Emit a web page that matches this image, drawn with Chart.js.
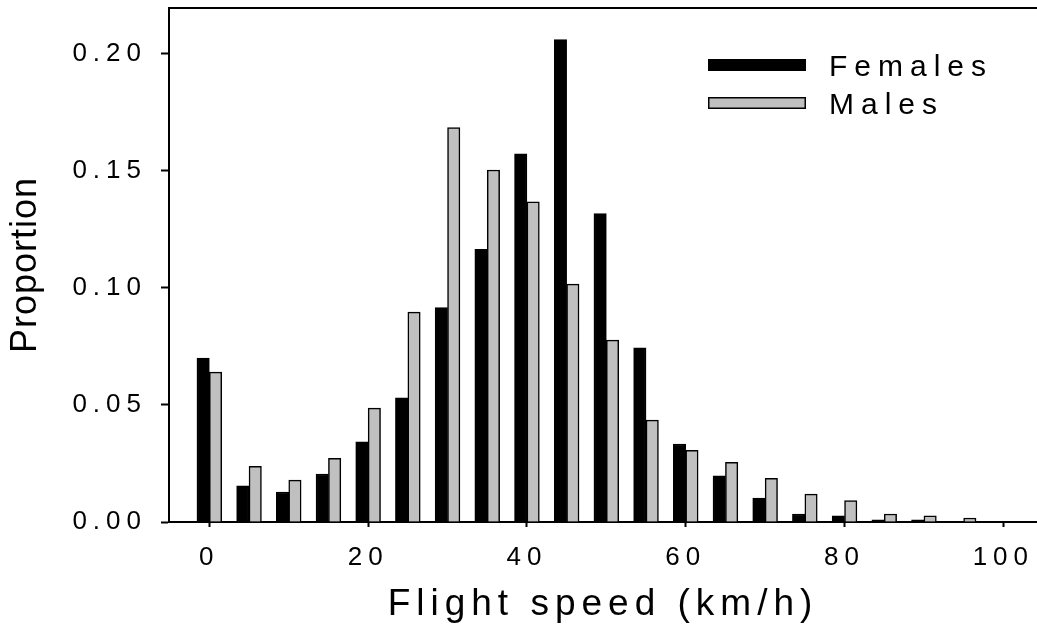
<!DOCTYPE html>
<html>
<head>
<meta charset="utf-8">
<script src="https://cdn.jsdelivr.net/npm/chart.js@4.4.1/dist/chart.umd.min.js"></script>
<style>
  html, body { margin: 0; padding: 0; background: #fff; overflow: hidden; }
  #wrap { width: 1037px; height: 635px; }
</style>
</head>
<body>
<div id="wrap"><canvas id="speedChart" width="1037" height="635"></canvas></div>
<script>
// Flight speed histogram (proportion per 5 km/h class)
const speeds = [0, 5, 10, 15, 20, 25, 30, 35, 40, 45, 50, 55, 60, 65, 70, 75, 80, 85, 90, 95];
const females = [0.070, 0.0154, 0.0128, 0.0205, 0.0342, 0.053, 0.0916, 0.1164, 0.1572, 0.206,
                 0.1317, 0.0744, 0.0333, 0.0197, 0.0102, 0.0034, 0.0026, 0.0009, 0.0009, 0];
const males = [0.064, 0.0238, 0.0179, 0.0272, 0.0486, 0.0896, 0.1684, 0.1503, 0.1367, 0.1016,
               0.0777, 0.0435, 0.0306, 0.0255, 0.0187, 0.0119, 0.0092, 0.0034, 0.0026, 0.0017];
const xTicks = [0, 20, 40, 60, 80, 100];
const yTicks = [0, 0.05, 0.10, 0.15, 0.20];

const colors = {
    female: '#000000',
    male: '#c0c0c0',
    line: '#000000'
};
const fontFamily = "'Liberation Sans', Arial, Helvetica, sans-serif";

// canvas text spacing (the original uses widely spaced lettering)
const spacingPlugin = {
    id: 'spacing',
    beforeLayout(chart) { chart.ctx.letterSpacing = '6px'; },
    beforeDraw(chart) { chart.ctx.letterSpacing = '6px'; }
};

// y title and in-plot legend
const decorPlugin = {
    id: 'decor',
    afterDraw(chart) {
        const ctx = chart.ctx;
        const area = chart.chartArea;
        ctx.save();
        // y axis title
        ctx.letterSpacing = '1px';
        ctx.font = '36px ' + fontFamily;
        ctx.fillStyle = '#000';
        ctx.textAlign = 'center';
        ctx.textBaseline = 'middle';
        ctx.translate(26, (area.top + area.bottom) / 2);
        ctx.rotate(-Math.PI / 2);
        ctx.fillText('Proportion', 0, 0);
        ctx.restore();

        // legend
        ctx.save();
        ctx.letterSpacing = '7px';
        ctx.font = '30px ' + fontFamily;
        ctx.textAlign = 'left';
        ctx.textBaseline = 'alphabetic';
        const lx = area.left + 539;
        chart.data.datasets.forEach(function(ds, i) {
            const top = i === 0 ? area.top + 51 : area.top + 89;
            ctx.fillStyle = ds.backgroundColor;
            ctx.fillRect(lx, top, 98, 12);
            ctx.lineWidth = 1.5;
            ctx.strokeStyle = '#000';
            ctx.strokeRect(lx + 0.75, top + 0.75, 96.5, 10.5);
            ctx.fillStyle = '#000';
            ctx.fillText(ds.label, lx + 121, top + 17);
        });
        ctx.restore();
    }
};

new Chart(document.getElementById('speedChart').getContext('2d'), {
    type: 'bar',
    data: {
        datasets: [{
            label: 'Females',
            data: speeds.map(function(s, i) { return { x: s, y: females[i] }; }),
            backgroundColor: colors.female,
            borderColor: colors.line,
            borderWidth: 1.5,
            barThickness: 12.4
        }, {
            label: 'Males',
            data: speeds.map(function(s, i) { return { x: s, y: males[i] }; }),
            backgroundColor: colors.male,
            borderColor: colors.line,
            borderWidth: 1.5,
            barThickness: 12.4
        }]
    },
    options: {
        responsive: false,
        animation: false,
        events: [],
        layout: { padding: 0 },
        plugins: {
            legend: { display: false },
            tooltip: { enabled: false }
        },
        scales: {
            x: {
                type: 'linear',
                position: 'bottom',
                min: -5.08,
                max: 104.24,
                offset: false,
                grid: {
                    offset: false,
                    drawOnChartArea: false,
                    tickLength: 5,
                    tickWidth: 2,
                    tickColor: colors.line
                },
                border: { color: colors.line, width: 2 },
                ticks: {
                    stepSize: 20,
                    includeBounds: false,
                    autoSkip: false,
                    maxRotation: 0,
                    padding: 15,
                    color: '#000',
                    font: { family: fontFamily, size: 26 },
                    callback: function(v) { return xTicks.includes(v) ? String(v) : ''; }
                },
                title: {
                    display: true,
                    text: 'Flight speed (km/h)',
                    color: '#000',
                    font: { family: fontFamily, size: 37 },
                    padding: { top: 0, bottom: 8 }
                },
                afterFit: function(s) { s.height = 113; s.paddingLeft = 0; s.paddingRight = 0; }
            },
            x2: {
                type: 'linear',
                position: 'top',
                grid: { drawOnChartArea: false, drawTicks: false },
                ticks: { display: false },
                border: { color: colors.line, width: 2 },
                afterFit: function(s) { s.height = 8; s.paddingLeft = 0; s.paddingRight = 0; }
            },
            y: {
                min: 0,
                max: 0.2195,
                grid: {
                    drawOnChartArea: false,
                    tickLength: 8,
                    tickWidth: 2,
                    tickColor: colors.line
                },
                border: { color: colors.line, width: 2 },
                ticks: {
                    stepSize: 0.05,
                    includeBounds: false,
                    padding: 14,
                    color: '#000',
                    font: { family: fontFamily, size: 26 },
                    callback: function(v) {
                        return yTicks.some(function(t) { return Math.abs(t - v) < 1e-6; }) ? v.toFixed(2) : '';
                    }
                },
                afterFit: function(s) { s.width = 169; s.paddingTop = 0; s.paddingBottom = 0; }
            }
        }
    },
    plugins: [spacingPlugin, decorPlugin]
});
</script>
</body>
</html>
